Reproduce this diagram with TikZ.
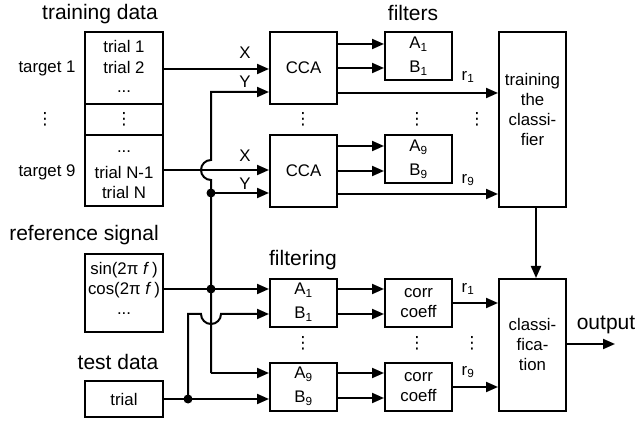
\documentclass[tikz,border=0pt]{standalone}
\usepackage{fontspec}
\setmainfont{Liberation Sans}
\newfontfamily\dejavu{DejaVu Sans}
\usetikzlibrary{arrows.meta,calc}
\newcommand{\vd}{{\dejavu ⋮}}
\begin{document}
\begin{tikzpicture}[x=1pt,y=1pt,
  box/.style={draw,line width=2pt,minimum width=67pt,inner sep=0pt},
  bigbox/.style={draw,line width=2pt,minimum width=78pt,inner sep=0pt},
  txt/.style={inner sep=0pt,font=\fontsize{16.8}{19}\selectfont},
  ttl/.style={inner sep=0pt,font=\fontsize{21}{25}\selectfont},
  arr/.style={line width=2pt,-{Triangle[length=12pt,width=10pt]}},
  ln/.style={line width=2pt},
  dot/.style={circle,fill=black,inner sep=0pt,minimum size=9pt}]
\useasboundingbox (0,0) rectangle (636,420);

% titles
\node[ttl] (t1) at (100,406) {training data};
\node[ttl] (t2) at (413,407) {filters};
\node[ttl] (t3) at (84,185) {reference signal};
\node[ttl] (t4) at (303,160) {filtering};
\node[ttl] (t5) at (118,58) {test data};

% training data
\node[bigbox,minimum height=174pt] (train) at (124,301) {};
\draw[ln] (train.west |- 0,316) -- (train.east |- 0,316);
\draw[ln] (train.west |- 0,285) -- (train.east |- 0,285);
\node[txt] (tr1) at (124,373) {trial 1};
\node[txt] (tr2) at (124,352) {trial 2};
\node[txt] (tr3) at (124,328) {...};
\node[txt] (tr4) at (124,301) {\vd};
\node[txt] (tr5) at (124,268) {...};
\node[txt] (tr6) at (124,248) {trial N-1};
\node[txt] (tr7) at (124,228) {trial N};
\node[txt] (g1) at (47,352) {target 1};
\node[txt] (g2) at (45,301) {\vd};
\node[txt] (g9) at (47,248) {target 9};

% CCA
\node[box,minimum height=72pt] (cca1) at (303.5,352) {};
\node[txt] at (cca1) {CCA};
\node[box,minimum height=72pt] (cca9) at (303.5,249) {};
\node[txt] at (cca9) {CCA};
\node[txt] (v1) at (303,301) {\vd};

% filters
\node[box,minimum height=48pt] (f1) at (418.5,364) {};
\node[txt] (f1a) at (418.5,376) {A\textsubscript{1}};
\node[txt] (f1b) at (418.5,352) {B\textsubscript{1}};
\node[box,minimum height=48pt] (f9) at (418.5,261) {};
\node[txt] (f9a) at (418.5,273) {A\textsubscript{9}};
\node[txt] (f9b) at (418.5,249) {B\textsubscript{9}};
\node[txt] (v2) at (417,301) {\vd};
\node[txt] (v3) at (477,301) {\vd};

% training classifier
\node[box,minimum height=175pt] (trc) at (532.5,300.5) {};
\node[txt,align=center] at (532.5,311) {training\\[1pt]the\\[1pt]classi-\\[1pt]fier};

% reference signal
\node[bigbox,minimum height=78pt] (ref) at (124,127) {};
\node[txt] (rs1) at (124,150) {sin(2π \textit{f}\,)};
\node[txt] (rs2) at (124,130) {cos(2π \textit{f}\,)};
\node[txt] (rs3) at (124,106) {...};

% test data
\node[bigbox,minimum height=36pt] (test) at (124,21) {};
\node[txt] at (test) {trial};

% filtering
\node[box,minimum height=48pt] (fa1) at (303.5,117) {};
\node[txt] at (303.5,130) {A\textsubscript{1}};
\node[txt] at (303.5,106) {B\textsubscript{1}};
\node[box,minimum height=48pt] (fa9) at (303.5,33) {};
\node[txt] at (303.5,46) {A\textsubscript{9}};
\node[txt] at (303.5,22) {B\textsubscript{9}};
\node[txt] (v4) at (303,77) {\vd};

% corr coeff
\node[box,minimum height=48pt] (cc1) at (418.5,117) {};
\node[txt,align=center] at (cc1) {corr\\[1pt]coeff};
\node[box,minimum height=48pt] (cc9) at (418.5,33) {};
\node[txt,align=center] at (cc9) {corr\\[1pt]coeff};
\node[txt] (v5) at (417,77) {\vd};
\node[txt] (v6) at (472,77) {\vd};

% classification
\node[box,minimum height=132pt] (cls) at (532.5,75) {};
\node[txt,align=center] at (532.5,76) {classi-\\[1pt]fica-\\[1pt]tion};

% junctions
\node[dot] (j1) at (211,227) {};
\node[dot] (j2) at (211,131) {};
\node[dot] (j3) at (188,21) {};
\coordinate (c47) at (211,47);

% top connections
\draw[arr] (train.east |- 0,351) -- (cca1.west |- 0,351);
\node[txt] at (245,367) {X};
\node[txt] at (245,338) {Y};
\draw[arr] (train.east |- 0,250) -- (cca9.west |- 0,250);
\node[txt] at (245,264) {X};
\node[txt] at (245,236) {Y};
\draw[arr] (j1.center) -- (cca9.west |- 0,227);
\draw[arr] (c47) -- (211,240) arc[start angle=270,end angle=90,radius=10pt] -- (211,328) -- (cca1.west |- 0,328);
\draw[arr] (c47) -- (fa9.west |- 0,47);

\draw[arr] (cca1.east |- 0,376) -- (f1.west |- 0,376);
\draw[arr] (cca1.east |- 0,352) -- (f1.west |- 0,352);
\draw[arr] (cca1.east |- 0,327) -- (trc.west |- 0,327);
\node[txt] at (468,343) {r\textsubscript{1}};
\draw[arr] (cca9.east |- 0,274) -- (f9.west |- 0,274);
\draw[arr] (cca9.east |- 0,249) -- (f9.west |- 0,249);
\draw[arr] (cca9.east |- 0,226) -- (trc.west |- 0,226);
\node[txt] at (468,240) {r\textsubscript{9}};

% bottom connections
\draw[arr] (ref.east |- 0,131) -- (fa1.west |- 0,131);
\draw[arr] (j3.center) -- (188,106) -- (201,106) arc[start angle=180,end angle=360,radius=10pt] -- (fa1.west |- 0,106);
\draw[arr] (test.east) -- (fa9.west |- 0,21);

\draw[arr] (fa1.east |- 0,131) -- (cc1.west |- 0,131);
\draw[arr] (fa1.east |- 0,106) -- (cc1.west |- 0,106);
\draw[arr] (fa9.east |- 0,47) -- (cc9.west |- 0,47);
\draw[arr] (fa9.east |- 0,22) -- (cc9.west |- 0,22);

\draw[arr] (cc1.east |- 0,117) -- (cls.west |- 0,117);
\node[txt] at (468,131) {r\textsubscript{1}};
\draw[arr] (cc9.east |- 0,33) -- (cls.west |- 0,33);
\node[txt] at (468,48) {r\textsubscript{9}};

\draw[arr] ([xshift=3.5pt]trc.south) -- ([xshift=3.5pt]cls.north);
\coordinate (out) at (615,76);
\draw[arr] (cls.east |- out) -- (out);
\node[ttl] (outl) at (606,95) {output};
\end{tikzpicture}
\end{document}
